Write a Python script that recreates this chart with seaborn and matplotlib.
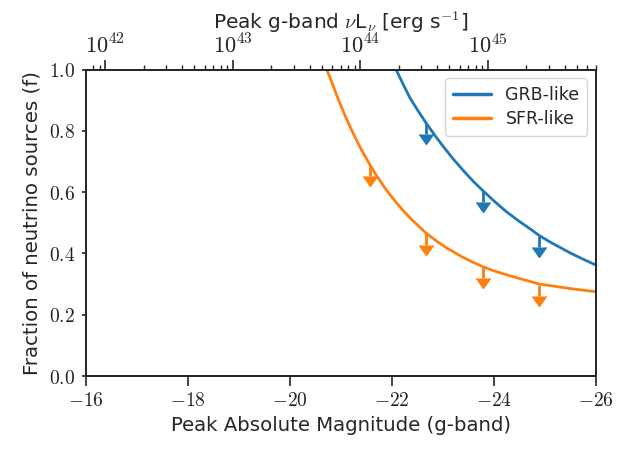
import numpy as np
import pandas as pd
import matplotlib
matplotlib.use("Agg")
import matplotlib.pyplot as plt
import seaborn as sns
from matplotlib.ticker import FixedLocator, FuncFormatter, LogLocator, NullFormatter

# ---- data ----
grb_mag = [-22.08, -22.2, -22.35, -22.5, -22.67, -22.85, -23.0, -23.2, -23.4, -23.6,
           -23.78, -24.0, -24.25, -24.5, -24.7, -24.89, -25.1, -25.3, -25.5, -25.75, -26.0]
grb_frac = [1.0, 0.958, 0.908, 0.868, 0.825, 0.783, 0.750, 0.708, 0.670, 0.634,
            0.605, 0.571, 0.535, 0.504, 0.481, 0.458, 0.437, 0.419, 0.401, 0.381, 0.362]

sfr_mag = [-20.72, -20.8, -20.9, -21.0, -21.1, -21.2, -21.3, -21.4, -21.57, -21.7,
           -21.85, -22.0, -22.2, -22.4, -22.67, -22.9, -23.1, -23.35, -23.6, -23.78,
           -24.0, -24.25, -24.5, -24.7, -24.89, -25.1, -25.3, -25.5, -25.75, -26.0]
sfr_frac = [1.0, 0.967, 0.923, 0.881, 0.842, 0.805, 0.771, 0.738, 0.688, 0.653,
            0.616, 0.583, 0.543, 0.508, 0.466, 0.437, 0.415, 0.391, 0.370, 0.357,
            0.343, 0.330, 0.318, 0.309, 0.300, 0.295, 0.290, 0.285, 0.280, 0.275]

grb_lim_mag = [-22.67, -23.78, -24.89]
grb_lim_frac = [0.825, 0.605, 0.458]
sfr_lim_mag = [-21.57, -22.67, -23.78, -24.89]
sfr_lim_frac = [0.688, 0.466, 0.357, 0.297]
lim_len = 0.037

series_names = ["GRB-like", "SFR-like"]
colors = ["#1f77b4", "#ff7f0e"]

xticks = [-16, -18, -20, -22, -24, -26]
yticks = [0.0, 0.2, 0.4, 0.6, 0.8, 1.0]
top_exps = [42, 43, 44, 45]
mag_at_1e42 = -16.38

# ---- style ----
sns.set_theme(style="ticks")
plt.rcParams["font.family"] = ["DejaVu Sans"]
plt.rcParams["mathtext.fontset"] = "cm"
plt.rcParams["axes.edgecolor"] = "#262626"
plt.rcParams["axes.linewidth"] = 1.3

df = pd.concat([
    pd.DataFrame({"mag": grb_mag, "frac": grb_frac, "model": series_names[0]}),
    pd.DataFrame({"mag": sfr_mag, "frac": sfr_frac, "model": series_names[1]}),
], ignore_index=True)

fig = plt.figure(figsize=(6.18, 4.49), dpi=100)
ax = fig.add_axes([86 / 618, 1 - 376 / 449, (596 - 86) / 618, (376 - 69.5) / 449])

sns.lineplot(data=df, x="mag", y="frac", hue="model", palette=colors,
             hue_order=series_names, linewidth=2.0, ax=ax, sort=False,
             estimator=None)

for m, f, c in [(grb_lim_mag, grb_lim_frac, colors[0]), (sfr_lim_mag, sfr_lim_frac, colors[1])]:
    eb = ax.errorbar(m, f, yerr=lim_len, uplims=True, fmt="none", ecolor=c,
                     color=c, elinewidth=2.0, capsize=0)
    for cl in eb[1]:
        cl.set_markersize(10)
        cl.set_color(c)
        cl.set_markerfacecolor(c)
        cl.set_markeredgecolor(c)
        cl.set_markeredgewidth(1.0)

ax.set_xlim(-16, -26)
ax.set_ylim(0, 1)
ax.xaxis.set_major_locator(FixedLocator(xticks))
ax.yaxis.set_major_locator(FixedLocator(yticks))
ax.xaxis.set_major_formatter(FuncFormatter(lambda v, p: r"$%d$" % round(v)))
ax.yaxis.set_major_formatter(FuncFormatter(lambda v, p: r"$%.1f$" % v))
ax.tick_params(axis="x", direction="out", length=7, width=1.2, labelsize=14, pad=4,
               colors="#262626", labelcolor="#222222")
ax.tick_params(axis="y", direction="out", length=3, width=1.2, labelsize=14, pad=5,
               colors="#262626", labelcolor="#222222")
ax.set_xlabel("Peak Absolute Magnitude (g-band)", fontsize=14.2, color="#262626", labelpad=4)
ax.set_ylabel("Fraction of neutrino sources (f)", fontsize=14.2, color="#262626", labelpad=5)
for s in ax.spines.values():
    s.set_visible(True)

leg = ax.legend(loc="upper right", fontsize=12.5, frameon=True, handlelength=2.2,
                borderpad=0.45, labelspacing=0.35, handletextpad=0.8)
leg.get_frame().set_edgecolor("0.8")
leg.get_frame().set_linewidth(1.0)
for line in leg.get_lines():
    line.set_linewidth(2.5)

# top luminosity axis
def mag_to_lum(mg):
    return 10 ** (42 - (np.asarray(mg) - mag_at_1e42) / 2.5)

ax2 = ax.twiny()
ax2.set_xscale("log")
ax2.set_xlim(mag_to_lum(-16), mag_to_lum(-26))
ax2.xaxis.set_major_locator(FixedLocator([10.0 ** e for e in top_exps]))
ax2.xaxis.set_major_formatter(FuncFormatter(lambda v, p: r"$10^{%d}$" % round(np.log10(v))))
ax2.xaxis.set_minor_locator(LogLocator(base=10, subs=np.arange(2, 10)))
ax2.xaxis.set_minor_formatter(NullFormatter())
ax2.tick_params(axis="x", which="major", direction="out", length=7, width=1.2,
                labelsize=16, pad=2, colors="#262626", labelcolor="#222222")
ax2.tick_params(axis="x", which="minor", direction="out", length=3.5, width=1.0)
ax2.set_xlabel(r"Peak g-band $\nu$L$_\nu$ [erg s$^{-1}$]", fontsize=14.5,
               color="#262626", labelpad=3)
ax2.set_ylim(0, 1)
ax2.tick_params(axis="y", which="both", left=False, right=False, labelleft=False, labelright=False)

fig.savefig("out.png", dpi=100)
